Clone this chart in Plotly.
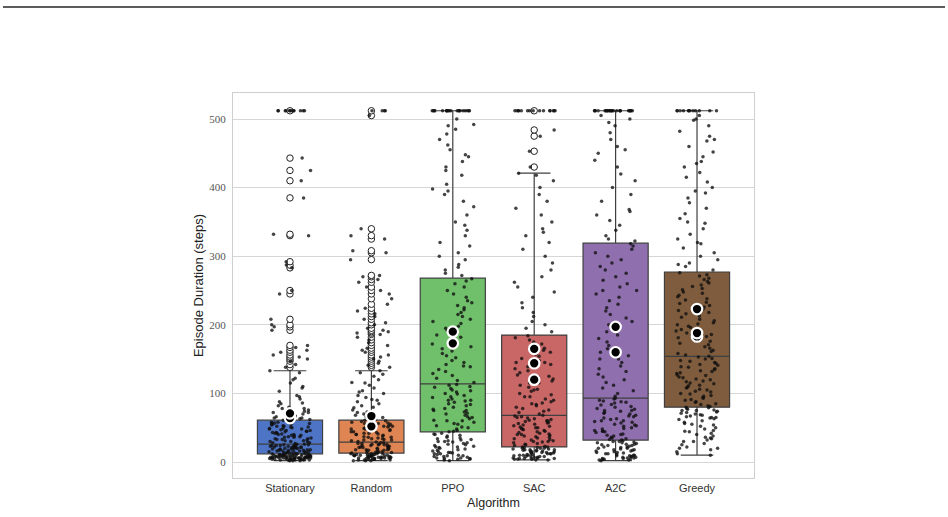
import math
import plotly.graph_objects as go

# ---------------- data ----------------
categories = ["Stationary", "Random", "PPO", "SAC", "A2C", "Greedy"]

box_q1 = [12, 13, 44, 22, 32, 80]
box_median = [26, 29, 114, 68, 93, 154]
box_q3 = [61, 61, 268, 185, 319, 277]
box_low = [2, 2, 2, 3, 2, 10]
box_high = [133, 133, 512, 421, 512, 512]

strip_stationary = [2,2,3,3,3,4,4,4,4,5,5,5,5,5,6,6,6,6,6,7,7,7,7,7,8,8,8,8,8,9,9,9,9,10,10,10,10,11,11,11,12,12,12,
    3,4,5,6,7,8,9,10,11,2,4,6,8,10,3,5,7,9,11,3,4,6,7,9,
    13,13,14,14,15,15,16,16,17,17,18,18,19,19,20,20,21,21,22,22,23,23,24,24,25,25,26,26,13,15,17,19,21,23,25,14,16,18,20,22,24,12,15,18,21,24,
    27,28,29,30,31,32,33,34,35,36,37,38,39,40,41,42,43,44,45,46,47,48,49,50,51,52,53,54,55,56,57,58,59,60,61,
    28,31,34,37,40,43,46,49,52,55,58,30,36,42,48,33,39,45,51,57,
    62,63,64,66,68,70,72,74,76,78,80,82,85,88,92,97,103,108,115,122,130,133,
    64,67,72,78,86,95,110,120]
strip_random = [2,2,3,3,4,4,4,5,5,5,6,6,6,7,7,7,8,8,8,9,9,9,10,10,10,11,11,11,12,12,12,13,13,
    3,5,7,9,11,4,6,8,10,12,2,6,10,
    14,14,15,16,16,17,18,18,19,20,20,21,22,22,23,24,24,25,26,26,27,28,28,29,15,17,19,21,23,25,27,14,18,22,26,
    30,31,32,33,34,35,36,37,38,39,40,41,42,43,44,45,46,47,48,49,50,51,52,53,54,55,56,57,58,59,60,61,
    32,36,40,44,48,52,56,60,34,42,50,
    62,64,66,68,70,73,76,79,82,85,88,91,94,97,100,104,108,112,116,120,125,130,133,65,72,80,90,102,115,128]
strip_ppo = [2,3,4,4,5,6,6,7,8,8,9,10,11,12,12,13,14,15,16,17,18,19,20,21,22,23,24,25,26,27,28,29,30,31,32,33,34,35,36,38,39,40,41,42,44,
    5,9,14,22,30,
    45,46,48,50,51,53,55,56,58,60,61,63,65,66,68,70,71,73,75,77,78,80,82,84,85,87,89,90,92,94,95,97,99,100,102,104,105,107,109,110,112,113,60,75,90,
    116,119,122,126,129,132,135,139,142,145,148,152,155,158,162,165,168,172,175,178,182,185,188,192,195,198,202,205,208,212,215,218,222,225,228,232,235,240,245,250,255,260,264,267,140,
    272,280,288,295,305,315,330,345,360,372,380,390,398,405,418,430,438,448,455,462,470,478,485,492,500,
    275,284,300,320,338,350,395,425,445,490]
strip_sac = [3,3,4,4,5,5,6,6,7,7,8,8,9,9,10,10,11,11,12,12,13,13,14,14,15,15,16,16,17,17,18,18,19,19,20,20,21,21,22,22,4,6,8,10,12,14,16,18,20,5,
    23,24,25,26,27,28,29,30,31,32,33,34,35,36,37,38,39,40,41,42,43,44,45,46,47,48,49,50,51,52,53,54,55,56,57,58,59,60,61,62,63,64,65,66,67,68,30,40,50,60,
    70,72,74,76,78,80,82,84,86,88,90,92,95,98,100,103,106,109,112,115,118,121,124,127,130,133,136,139,142,145,148,151,154,157,160,163,166,169,172,175,178,181,184,85,105,125,145,165,95,115,
    190,195,200,205,212,218,225,232,240,248,255,262,270,280,290,300,310,320,330,340,350,360,370,380,390,400,410,418,421,335]
strip_a2c = [2,3,3,4,5,5,6,7,7,8,9,10,11,12,13,14,15,16,17,18,19,20,21,22,23,24,25,26,27,28,29,30,31,32,4,6,8,10,12,14,16,18,20,22,24,26,28,30,5,9,
    33,34,35,36,38,39,40,41,43,44,45,46,48,49,50,52,53,54,55,57,58,59,60,62,63,64,66,67,68,70,71,72,74,75,77,78,80,81,83,84,86,87,89,90,92,93,45,60,75,88,
    96,100,104,108,112,116,120,124,128,132,136,140,145,150,155,160,165,170,175,180,185,190,195,200,205,210,215,220,225,230,235,240,245,250,255,260,265,270,275,280,285,290,295,300,305,310,315,318,150,250,
    322,330,338,345,352,360,368,380,390,400,410,420,430,440,450,460,470,480,490,500,325,365,455,495,505]
strip_greedy = [10,12,15,18,20,22,25,27,30,32,34,36,38,40,42,44,46,48,50,52,54,56,58,60,62,63,64,65,66,67,68,69,70,71,72,73,74,75,76,77,78,79,80,20,35,45,55,65,75,30,
    81,82,84,85,87,88,90,91,93,94,96,97,99,100,102,103,105,106,108,109,111,112,114,115,117,118,120,121,123,124,126,127,129,130,132,133,135,136,138,139,141,142,144,145,147,148,150,151,153,154,
    156,158,161,163,166,168,171,173,176,178,181,183,186,188,191,193,196,198,201,203,206,208,211,213,216,218,221,223,226,228,231,233,236,238,241,243,246,248,251,253,256,258,261,263,266,268,271,273,276,200,
    280,285,290,295,300,305,312,318,325,332,340,348,355,362,370,378,385,392,400,408,415,422,430,438,445,452,460,468,475,482,490,498,505,288,320,350,395,435,470,500]

outliers_stationary = [138,142,147,150,153,156,160,163,167,170,192,197,200,208,245,250,283,287,292,330,332,385,410,425,443,512]
outliers_random = [138,141,144,147,150,153,156,160,163,166,170,174,178,182,186,188,190,192,195,200,203,208,212,216,220,224,230,238,245,250,255,262,266,270,272,295,305,308,325,330,340,505,512]
outliers_ppo = []
outliers_sac = [430,453,475,484,512]
outliers_a2c = []
outliers_greedy = []

cap_value = 512
cap_counts = [12, 4, 20, 15, 25, 12]

mean_markers = [[64, 71], [52, 67], [173, 190], [120, 144, 165], [160, 197], [183, 188, 223]]

box_colors = ["#4e74c5", "#de8553", "#70bf6a", "#c96767", "#8f6fad", "#7e5c3d"]

strips = [strip_stationary, strip_random, strip_ppo, strip_sac, strip_a2c, strip_greedy]
outliers = [outliers_stationary, outliers_random, outliers_ppo, outliers_sac, outliers_a2c, outliers_greedy]

# ---------------- figure ----------------
fig = go.Figure()

for i, cat in enumerate(categories):
    fig.add_trace(go.Box(
        x=[i], q1=[box_q1[i]], median=[box_median[i]], q3=[box_q3[i]],
        lowerfence=[box_low[i]], upperfence=[box_high[i]],
        width=0.8, whiskerwidth=0.5, boxpoints=False,
        fillcolor=box_colors[i], line=dict(color="#3f3f3f", width=1.2),
        name=cat, showlegend=False, hoverinfo="skip"))

def jitter(i, k):
    v = math.sin((i + 1) * 12.9898 + (k + 1) * 78.233) * 43758.5453
    return (v - math.floor(v) - 0.5) * 2 * 0.26

# outliers (open circles at box centre)
for k in range(len(categories)):
    if outliers[k]:
        fig.add_trace(go.Scatter(
            x=[k] * len(outliers[k]), y=outliers[k], mode="markers",
            marker=dict(size=6.5, color="white", line=dict(color="#222", width=1)),
            showlegend=False, hoverinfo="skip"))

# strip points
for k in range(len(categories)):
    vals = list(strips[k]) + [v for v in outliers[k] if v != cap_value] + [cap_value] * cap_counts[k]
    xs = [k + jitter(i, k) for i in range(len(vals))]
    fig.add_trace(go.Scatter(
        x=xs, y=vals, mode="markers",
        marker=dict(size=3.5, color="rgba(15,15,15,0.78)", line=dict(width=0)),
        showlegend=False, hoverinfo="skip"))

# mean markers
for k in range(len(categories)):
    m = mean_markers[k]
    fig.add_trace(go.Scatter(
        x=[k] * len(m), y=m, mode="markers",
        marker=dict(size=10.5, color="black", line=dict(color="white", width=2.2)),
        showlegend=False, hoverinfo="skip"))

L, R, T, B = 233, 194, 93, 39
W, H = 948, 517
pw, ph = W - L - R, H - T - B

fig.add_shape(type="line", xref="paper", yref="paper",
              x0=(3 - L) / pw, x1=(945 - L) / pw,
              y0=(H - B - 7) / ph, y1=(H - B - 7) / ph,
              line=dict(color="#262626", width=1.6))

fig.update_layout(
    width=W, height=H,
    margin=dict(l=L, r=R, t=T, b=B, autoexpand=False),
    paper_bgcolor="white", plot_bgcolor="white",
    boxmode="overlay",
    xaxis=dict(
        range=[-0.7, 5.7], tickmode="array", tickvals=list(range(len(categories))),
        ticktext=categories, showgrid=False, zeroline=False,
        showline=True, mirror=True, linecolor="#cfcfcf", linewidth=1,
        ticks="", tickfont=dict(family="Liberation Sans, Arial, sans-serif", size=11, color="#333"),
        title=dict(text="Algorithm", standoff=5,
                   font=dict(family="Liberation Sans, Arial, sans-serif", size=12.5, color="#222"))),
    yaxis=dict(
        range=[-23.3, 537.9], tickmode="array", tickvals=[0, 100, 200, 300, 400, 500],
        showgrid=True, gridcolor="#d6d6d6", gridwidth=1, zeroline=False,
        showline=True, mirror=True, linecolor="#cfcfcf", linewidth=1,
        ticks="", ticklabelstandoff=4,
        tickfont=dict(family="Liberation Serif, DejaVu Serif, serif", size=11, color="#555"),
        title=dict(text="Episode Duration (steps)", standoff=2,
                   font=dict(family="Liberation Sans, Arial, sans-serif", size=13, color="#222"))),
)

fig.write_html("out.html")
